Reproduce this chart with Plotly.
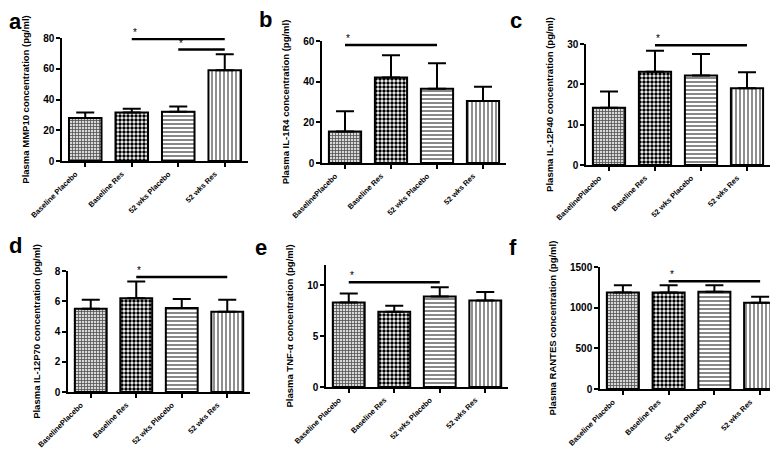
import plotly.graph_objects as go

W, H = 778, 450

# ---------------- data ----------------
cats_a = ["Baseline Placebo", "Baseline Res", "52 wks Placebo", "52 wks Res"]
cats_b = ["BaselinePlacebo", "Baseline Res", "52 wks Placebo", "52 wks Res"]
cats_c = ["BaselinePlacebo", "Baseline Res", "52 wks Placebo", "52 wks Res"]
cats_d = ["BaselinePlacebo", "Baseline Res", "52 wks Placebo", "52 wks Res"]
cats_e = ["Baseline Placebo", "Baseline Res", "52 wks Placebo", "52 wks Res"]
cats_f = ["Baseline Placebo", "Baseline Res", "52 wks Placebo", "52 wks Res"]

mmp10_mean = [28, 31.5, 32, 59]
mmp10_sem = [3.5, 2.5, 3.5, 10.5]
il1r4_mean = [15.5, 42, 36.5, 30.5]
il1r4_sem = [10, 11, 12.5, 7]
il12p40_mean = [14.2, 23.1, 22.2, 19]
il12p40_sem = [4, 5.2, 5.3, 4]
il12p70_mean = [5.5, 6.2, 5.55, 5.3]
il12p70_sem = [0.6, 1.1, 0.6, 0.8]
tnfa_mean = [8.3, 7.4, 8.9, 8.5]
tnfa_sem = [0.9, 0.6, 0.9, 0.85]
rantes_mean = [1185, 1185, 1195, 1060]
rantes_sem = [90, 90, 80, 75]

ytitles = [
    "Plasma MMP10 concentration (pg/ml)",
    "Plasma IL-1R4 concentration (pg/ml)",
    "Plasma IL-12P40 concentration (pg/ml)",
    "Plasma IL-12P70 concentration (pg/ml)",
    "Plasma TNF-α concentration (pg/ml)",
    "Plasma RANTES concentration (pg/ml)",
]
yranges = [[0, 80], [0, 60], [0, 30], [0, 8], [0, 12], [0, 1500]]
ydticks = [20, 20, 10, 2, 5, 500]
letters = ["a", "b", "c", "d", "e", "f"]

# significance bars: (from category index, to category index, y value)
sig_a = [(1, 3, 79.3), (2, 3, 72.5)]
sig_b = [(0, 2, 58)]
sig_c = [(1, 3, 29.7)]
sig_d = [(1, 3, 7.6)]
sig_e = [(0, 2, 10.3)]
sig_f = [(1, 3, 1325)]

# ---------------- layout geometry (px) ----------------
boxes = [
    (54, 240, 30, 153),
    (314, 498, 33, 155),
    (578, 762, 36, 157),
    (60, 242, 263, 384),
    (318, 500, 257, 379),
    (592, 775, 259, 381),
]
letter_pos = [(7, 14), (257, 12), (508, 13), (8, 238), (253, 239), (505, 239)]

cats_all = [cats_a, cats_b, cats_c, cats_d, cats_e, cats_f]
means = [mmp10_mean, il1r4_mean, il12p40_mean, il12p70_mean, tnfa_mean, rantes_mean]
sems = [mmp10_sem, il1r4_sem, il12p40_sem, il12p70_sem, tnfa_sem, rantes_sem]
sigs = [sig_a, sig_b, sig_c, sig_d, sig_e, sig_f]

patterns = [
    dict(shape="+", size=3, solidity=0.45, fgcolor="#505050", bgcolor="#d8d8d8"),
    dict(shape=".", size=4, solidity=0.6, fgcolor="black", bgcolor="white"),
    dict(shape="-", size=4, solidity=0.35, fgcolor="#555555", bgcolor="white"),
    dict(shape="|", size=4, solidity=0.3, fgcolor="#444444", bgcolor="white"),
]

FONT = "Liberation Sans"
fig = go.Figure()
layout = dict(
    template="none",
    width=W, height=H, margin=dict(l=0, r=0, t=0, b=0),
    paper_bgcolor="white", plot_bgcolor="white", showlegend=False,
    font=dict(family=FONT, color="black"),
)
annotations = []

for i in range(6):
    n = "" if i == 0 else str(i + 1)
    xa, ya = "x" + n, "y" + n
    l, r, t, b = boxes[i]
    cats = cats_all[i]
    for j in range(4):
        fig.add_trace(go.Bar(
            x=[cats[j]], y=[means[i][j]], xaxis=xa, yaxis=ya, width=0.7,
            marker=dict(color="white", line=dict(color="black", width=2),
                        pattern=patterns[j]),
            error_y=dict(type="data", array=[sems[i][j]], arrayminus=[0],
                         symmetric=False, color="black", thickness=2, width=9),
        ))
    for (a0, a1, yv) in sigs[i]:
        fig.add_trace(go.Scatter(
            x=[cats[a0], cats[a1]], y=[yv, yv], xaxis=xa, yaxis=ya,
            mode="lines", line=dict(color="black", width=2.5), hoverinfo="skip",
        ))
        annotations.append(dict(
            x=cats[a0], y=yv, xref=xa, yref=ya, text="*", showarrow=False,
            xanchor="center", yanchor="bottom", yshift=-1, xshift=3,
            font=dict(size=10, family=FONT, color="black"),
        ))
    layout["xaxis" + n] = dict(
        domain=[l / W, r / W], anchor=ya, type="category",
        categoryorder="array", categoryarray=cats,
        showline=True, linecolor="black", linewidth=1.5,
        ticks="outside", ticklen=4, tickwidth=1.5, tickcolor="black",
        tickangle=-45, showgrid=False, zeroline=False, automargin=False,
        ticklabelshift=-10,
        tickfont=dict(size=7.5, family=FONT, weight="bold", color="black"),
    )
    layout["yaxis" + n] = dict(
        domain=[1 - b / H, 1 - t / H], anchor=xa, range=yranges[i],
        dtick=ydticks[i], tick0=0,
        showline=True, linecolor="black", linewidth=1.5,
        ticks="outside", ticklen=4, tickwidth=1.5, tickcolor="black",
        showgrid=False, zeroline=False, automargin=False,
        tickfont=dict(size=10, family=FONT, weight="bold", color="black"),
        title=dict(text=ytitles[i], standoff=12,
                   font=dict(size=9.5, family=FONT, weight="bold", color="black")),
    )
    lx, ly = letter_pos[i]
    annotations.append(dict(
        x=lx / W, y=1 - ly / H, xref="paper", yref="paper", text=letters[i],
        showarrow=False, xanchor="center", yanchor="middle",
        font=dict(size=22, family=FONT, weight="bold", color="black"),
    ))

layout["annotations"] = annotations
fig.update_layout(**layout)
fig.write_html("out.html")
